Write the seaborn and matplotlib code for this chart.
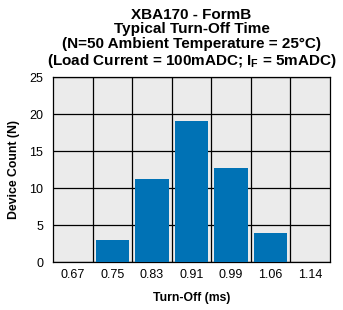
import matplotlib
matplotlib.use("Agg")
import matplotlib.pyplot as plt
import seaborn as sns
import pandas as pd

categories = ["0.67", "0.75", "0.83", "0.91", "0.99", "1.06", "1.14"]
counts = [0, 3, 11.2, 19, 12.7, 3.9, 0]
y_ticks = [0, 5, 10, 15, 20, 25]

sns.set_theme(style="white")
plt.rcParams["font.family"] = ["Liberation Sans", "DejaVu Sans"]
plt.rcParams["mathtext.fontset"] = "custom"
plt.rcParams["mathtext.bf"] = "Liberation Sans:bold"
plt.rcParams["mathtext.rm"] = "Liberation Sans:bold"
plt.rcParams["text.color"] = "black"
plt.rcParams["axes.labelcolor"] = "black"

df = pd.DataFrame({"Turn-Off": categories, "Count": counts})

fig = plt.figure(figsize=(3.43, 3.10), dpi=100)
ax = fig.add_axes([0.1545, 0.1548, 0.8075, 0.5968])
ax.set_facecolor("#EBEBEB")

sns.barplot(data=df, x="Turn-Off", y="Count", order=categories, color="#0072B5",
            saturation=1, width=0.84, linewidth=0, ax=ax, zorder=3)

ax.set_ylim(0, 25)
ax.set_yticks(y_ticks)
ax.set_xlim(-0.5, len(categories) - 0.5)
ax.set_xticks([i - 0.5 for i in range(1, len(categories))], minor=True)
ax.grid(True, axis="y", which="major", color="black", linewidth=0.9, zorder=1)
ax.grid(True, axis="x", which="minor", color="black", linewidth=0.9, zorder=1)
ax.grid(False, axis="x", which="major")
ax.set_axisbelow(True)
ax.tick_params(axis="both", which="both", length=0, labelsize=9, colors="black")
ax.tick_params(axis="y", pad=7)
ax.tick_params(axis="x", pad=5)
for s in ax.spines.values():
    s.set_visible(True)
    s.set_color("black")
    s.set_linewidth(0.9)

ax.set_xlabel("Turn-Off (ms)", fontsize=8.8, fontweight="bold", labelpad=8, color="black")
ax.set_ylabel("Device Count (N)", fontsize=8.8, fontweight="bold", labelpad=7, color="black")

ax.set_title("XBA170 - FormB\nTypical Turn-Off Time\n(N=50 Ambient Temperature = 25°C)\n"
             r"(Load Current = 100mADC; $\mathbf{I_F}$ = 5mADC)",
             fontsize=11, fontweight="bold", linespacing=1.05, pad=9, color="black")

fig.savefig("out.png", dpi=100)
